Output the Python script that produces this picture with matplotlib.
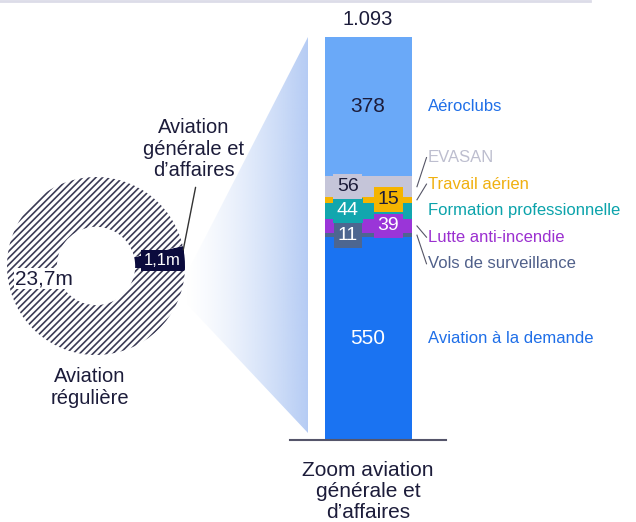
import numpy as np
import matplotlib.pyplot as plt
from matplotlib.patches import Polygon

plt.rcParams['font.family'] = ['Liberation Sans', 'DejaVu Sans']
plt.rcParams['hatch.linewidth'] = 1.2

# trafic total (millions de passagers)
donut_values = [1.1, 23.7]
donut_texts = ['1,1m', '23,7m']
donut_names = ['Aviation\ngénérale et\nd’affaires', 'Aviation\nrégulière']

# zoom aviation générale et d'affaires, de bas en haut
categories = ['Aviation à la demande', 'Vols de surveillance', 'Lutte anti-incendie',
              'Formation professionnelle', 'Travail aérien', 'EVASAN', 'Aéroclubs']
values = [550, 11, 39, 44, 15, 56, 378]
total_label = '1.093'
bar_title = 'Zoom aviation\ngénérale et\nd’affaires'

seg_colors = ['#1a73f2', '#4d6690', '#9a35d8', '#12a6ae', '#f5b400', '#c5c5d9', '#6aa9f8']
name_colors = ['#1f6fe8', '#50608a', '#9b30d0', '#0ba3ab', '#f0b010', '#bdbecf', '#1f6fe8']
num_colors = ['white', 'white', 'white', 'white', '#1c1c3a', '#1c1c3a', '#1c1c3a']
dark = '#1c1c3a'

W, H = 636, 522
fig = plt.figure(figsize=(W / 100, H / 100), dpi=100)


def box(x0, y0, x1, y1):
    # pixel box (y down) -> figure fraction
    return [x0 / W, 1 - y1 / H, (x1 - x0) / W, (y1 - y0) / H]


# fond : ligne du haut + triangle de zoom
bg = fig.add_axes([0, 0, 1, 1], zorder=0)
bg.axis('off')

# ---- donut ----
ax_pie = fig.add_axes(box(7, 177, 185, 355), zorder=1)
ax_pie.patch.set_alpha(0)
start = -3
wedges, _ = ax_pie.pie(donut_values, startangle=start, radius=1,
                       wedgeprops=dict(width=0.56, linewidth=0))
wedges[0].set_facecolor('#0b0b3d')
wedges[1].set_facecolor('white')
wedges[1].set_edgecolor('#3a3a55')
wedges[1].set_hatch('/////')
ax_pie.set_xlim(-1, 1)
ax_pie.set_ylim(-1, 1)
ax_pie.axis('off')

mid0 = np.deg2rad(start + donut_values[0] / sum(donut_values) * 360 / 2)
ax_pie.text(0.75 * np.cos(mid0), 0.75 * np.sin(mid0), donut_texts[0], color='white',
            fontsize=12, ha='center', va='center',
            bbox=dict(boxstyle='square,pad=0.18', fc='#0b0b3d', ec='none'))
a1 = np.deg2rad(194)
ax_pie.text(0.6 * np.cos(a1), 0.6 * np.sin(a1), donut_texts[1], color=dark,
            fontsize=15, ha='center', va='center',
            bbox=dict(boxstyle='square,pad=0.05', fc='white', ec='none'))
ax_pie.annotate(donut_names[0], xy=(0.98, 0.18), xytext=(1.1, 1.31),
                ha='center', va='center', fontsize=14.5, color=dark, linespacing=1.17,
                annotation_clip=False,
                arrowprops=dict(arrowstyle='-', color='#333333', lw=1,
                                relpos=(0.53, 0), shrinkA=3, shrinkB=0))
ax_pie.text(-0.07, -1.36, donut_names[1], ha='center', va='center', fontsize=14.5,
            color=dark, linespacing=1.2)

# ---- barre empilée ----
ax_bar = fig.add_axes(box(290, 37, 446, 440), zorder=2)
ax_bar.patch.set_alpha(0)
bw = 87 / 156
total = sum(values)
bottoms = np.concatenate([[0], np.cumsum(values)[:-1]])
centers = bottoms + np.array(values) / 2
ax_bar.bar([0] * len(values), values, width=bw, bottom=bottoms, color=seg_colors)
ax_bar.set_xlim(-0.5, 0.5)
ax_bar.set_ylim(0, total)
ax_bar.set_xticks([])
ax_bar.set_yticks([])
for s in ['top', 'left', 'right']:
    ax_bar.spines[s].set_visible(False)
ax_bar.spines['bottom'].set_color('#55556a')
ax_bar.spines['bottom'].set_linewidth(1.5)

ax_bar.annotate(total_label, xy=(0, total), xytext=(0, 12.5), textcoords='offset points',
                ha='center', va='center', fontsize=14.5, color=dark, annotation_clip=False)
ax_bar.annotate(bar_title, xy=(0, 0), xytext=(0, -37), textcoords='offset points',
                ha='center', va='center', fontsize=15, color=dark, linespacing=1.15,
                annotation_clip=False)

# étiquettes des valeurs
side = -1
for i, (v, c) in enumerate(zip(values, centers)):
    if v > 100:
        ax_bar.text(0, c, str(v), ha='center', va='center', fontsize=15, color=num_colors[i])
    else:
        ax_bar.text(side * 0.13, c, str(v), ha='center', va='center', fontsize=14,
                    color=num_colors[i],
                    bbox=dict(boxstyle='square,pad=0.2', fc=seg_colors[i], ec='none'))
        side = -side

# noms à droite, les petits segments sont écartés autour de "Formation"
gap = 72
label_y = list(centers)
for i in range(1, 6):
    label_y[i] = centers[3] + (i - 3) * gap
x_txt = 0.383
for i, name in enumerate(categories):
    ax_bar.text(x_txt, label_y[i], name, ha='left', va='center', fontsize=12,
                color=name_colors[i], clip_on=False)
    if abs(label_y[i] - centers[i]) > 10:
        ax_bar.plot([bw / 2 + 0.035, x_txt - 0.008], [centers[i], label_y[i]],
                    color='#555566', lw=0.8, clip_on=False)

# triangle de zoom en dégradé
bg.set_xlim(0, W)
bg.set_ylim(H, 0)
fig.canvas.draw()
to_bg = bg.transData.inverted()
edge = []
for ang in (-8, -20):
    a = np.deg2rad(ang)
    edge.append(to_bg.transform(ax_pie.transData.transform((np.cos(a), np.sin(a)))))
bx0, by_top = to_bg.transform(ax_bar.transData.transform((-0.5, total)))
_, by_bot = to_bg.transform(ax_bar.transData.transform((-0.5, 0)))
xr = bx0 + 18
poly = Polygon([(xr, by_top), (xr, by_bot - 7), tuple(edge[1]), tuple(edge[0])],
               closed=True, fc='none', ec='none')
bg.add_patch(poly)
xl = edge[0][0]
t = np.linspace(0, 1, 256)
grad = np.zeros((2, 256, 4))
grad[..., 0] = 0.71
grad[..., 1] = 0.80
grad[..., 2] = 0.96
grad[..., 3] = t ** 1.4
im = bg.imshow(grad, extent=[xl, xr, by_bot, by_top], aspect='auto', interpolation='bilinear')
im.set_clip_path(poly)
bg.plot([0, 590], [1, 1], color='#dcdce8', lw=2)
bg.set_xlim(0, W)
bg.set_ylim(H, 0)

fig.savefig('out.png', dpi=100)
